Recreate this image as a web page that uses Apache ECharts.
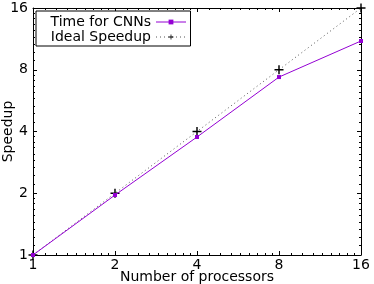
<!DOCTYPE html>
<html><head><meta charset="utf-8">
<script src="https://cdn.jsdelivr.net/npm/echarts@6/dist/echarts.min.js"></script>
<style>html,body{margin:0;padding:0;background:#fff}#c{width:374px;height:284px}</style>
</head><body><div id="c"></div>
<script>
const processors = [1, 2, 4, 8, 16];
const timeSpeedup = [1, 1.96, 3.76, 7.37, 11.05];
const idealSpeedup = [1, 2, 4, 8, 16];
const seriesNames = ['Time for CNNs', 'Ideal Speedup'];

const FONT = 'DejaVu Sans';
const FS = 14;
// minor tick positions (log2 space): linear subdivisions of each octave
const minor = [];
[1, 2, 4, 8].forEach(b => { for (let k = 1; k <= 8; k++) minor.push(Math.log2(b * (1 + k / 9))); });

const chart = echarts.init(document.getElementById('c'), null, {renderer: 'canvas'});
const plusPath = 'path://M-0.8,-5H0.8V-0.8H5V0.8H0.8V5H-0.8V0.8H-5V-0.8H-0.8Z';
const logAxis = (pos, show) => ({
  type: 'log', logBase: 2, min: 1, max: 16, position: pos,
  axisLine: {show: true, onZero: false, lineStyle: {color: '#000', width: 1}},
  axisTick: {show: true, inside: true, length: 4, lineStyle: {color: '#000'}},
  axisLabel: {show: show, color: '#000', fontFamily: FONT, fontSize: FS, margin: show ? 3 : 0},
  splitLine: {show: false}, minorTick: {show: false}
});
const minorAxis = (pos) => ({
  type: 'value', min: 0, max: 4, position: pos,
  axisLine: {show: false, onZero: false},
  axisTick: {show: true, inside: true, length: 2, customValues: minor, lineStyle: {color: '#000'}},
  axisLabel: {show: false}, splitLine: {show: false}
});

const xMain = logAxis('bottom', true);
Object.assign(xMain, {
  name: 'Number of processors', nameLocation: 'middle', nameGap: 15, nameMoveOverlap: false,
  nameTextStyle: {color: '#000', fontFamily: FONT, fontSize: FS}
});
const yMain = logAxis('left', true);
Object.assign(yMain, {
  name: 'Speedup', nameLocation: 'middle', nameGap: 18, nameMoveOverlap: false,
  nameTextStyle: {color: '#000', fontFamily: FONT, fontSize: FS}
});
yMain.axisLabel.margin = 5;

chart.setOption({
  animation: false,
  grid: {left: 33, right: 13, top: 8, bottom: 29, outerBoundsMode: 'none'},
  legend: {
    orient: 'vertical', left: 36, top: 11, align: 'right',
    padding: [4, 4, 2, 5], itemGap: 1, itemWidth: 30, itemHeight: 6,
    borderColor: '#000', borderWidth: 1, backgroundColor: '#fff',
    lineStyle: {width: 1},
    textStyle: {color: '#000', fontFamily: FONT, fontSize: FS, width: 110, align: 'right', lineHeight: 14},
    data: seriesNames
  },
  xAxis: [xMain, logAxis('top', false), minorAxis('bottom'), minorAxis('top')],
  yAxis: [yMain, logAxis('right', false), minorAxis('left'), minorAxis('right')],
  series: [
    {
      name: seriesNames[0], type: 'line', xAxisIndex: 0, yAxisIndex: 0,
      data: processors.map((p, i) => [p, timeSpeedup[i]]),
      symbol: 'rect', symbolSize: 4, clip: false,
      lineStyle: {color: '#9400d3', width: 1}, itemStyle: {color: '#9400d3'}, z: 3
    },
    {
      name: seriesNames[1], type: 'line', xAxisIndex: 0, yAxisIndex: 0,
      data: processors.map((p, i) => [p, idealSpeedup[i]]),
      symbol: plusPath, symbolSize: 9, clip: false,
      lineStyle: {color: '#555', width: 1, type: [1, 3]}, itemStyle: {color: '#000'}, z: 2
    }
  ]
});
</script></body></html>
